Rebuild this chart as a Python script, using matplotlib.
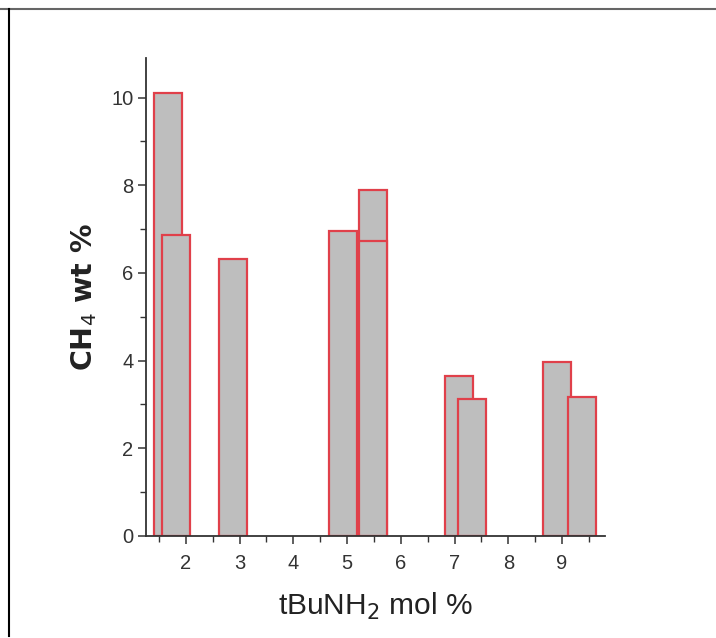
import matplotlib
matplotlib.use('Agg')
import matplotlib.pyplot as plt
from matplotlib.lines import Line2D
from matplotlib.ticker import MultipleLocator

plt.rcParams['font.family'] = ['Liberation Sans', 'DejaVu Sans']

# tBuNH2 loading (mol %) and CH4 uptake (wt %)
mol_pct = [1.66, 1.81, 2.87, 4.93, 5.48, 5.48, 7.08, 7.32, 8.90, 9.37]
ch4_wt = [10.1, 6.87, 6.32, 6.96, 7.88, 6.72, 3.65, 3.12, 3.97, 3.17]
x_ticks = [2, 3, 4, 5, 6, 7, 8, 9]
y_ticks = [0, 2, 4, 6, 8, 10]

fig = plt.figure(figsize=(7.16, 6.38), dpi=100)
ax = fig.add_axes([0.204, 0.160, 0.641, 0.749])

for x, h in zip(mol_pct, ch4_wt):
    ax.bar(x, h, width=0.52, color='#bebebe', edgecolor='#e0404a',
           linewidth=1.6, align='center')

ax.set_xlim(1.26, 9.8)
ax.set_ylim(0, 10.9)
ax.set_xticks(x_ticks)
ax.set_yticks(y_ticks)
ax.xaxis.set_minor_locator(MultipleLocator(0.5))
ax.yaxis.set_minor_locator(MultipleLocator(1))

for s in ['top', 'right']:
    ax.spines[s].set_visible(False)
for s in ['left', 'bottom']:
    ax.spines[s].set_color('#333333')
    ax.spines[s].set_linewidth(1.3)

ax.tick_params(which='major', direction='out', length=6, width=1.1,
               color='#333333', labelsize=14.5, labelcolor='#333333')
ax.tick_params(axis='x', which='major', pad=7)
ax.tick_params(axis='y', which='major', pad=3)
ax.tick_params(which='minor', direction='out', length=4, width=1.0,
               color='#333333')

ax.set_xlabel('tBuNH$_2$ mol %', fontsize=21.5, color='#222222', labelpad=13)
ax.set_ylabel('CH$_4$ wt %', fontsize=20.5, fontweight='bold',
              family='DejaVu Sans', color='#222222', labelpad=9)

# frame lines at the top and left edge of the picture
fig.add_artist(Line2D([0, 1], [1 - 8.5 / 638] * 2, color='#666666', lw=1.5))
fig.add_artist(Line2D([8.5 / 716] * 2, [0.003, 1 - 8.5 / 638], color='black', lw=1.5))

fig.savefig('out.png', dpi=100)
